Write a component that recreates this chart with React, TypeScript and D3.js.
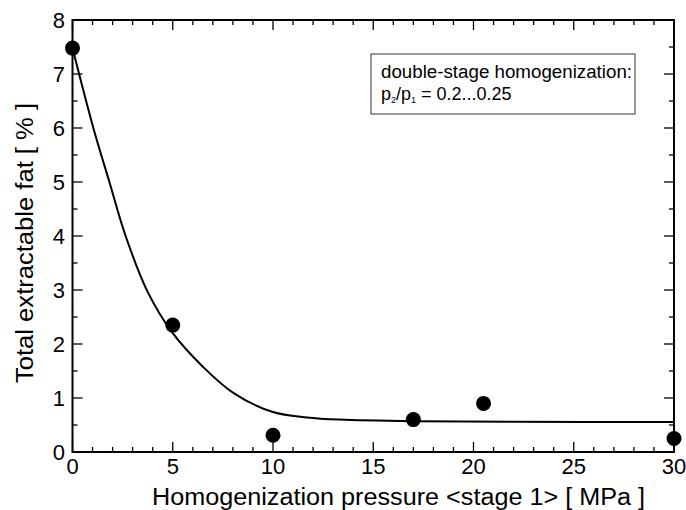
import React from "react";
import * as d3 from "d3";

const pressure = [0, 5, 10, 17, 20.5, 30];
const fat = [7.48, 2.35, 0.31, 0.6, 0.9, 0.25];

const curveX = [0, 1.04, 1.84, 2.65, 3.73, 5, 6.5, 8, 10, 11.7, 13.3, 17, 22, 30];
const curveY = [7.48, 6.0, 5.0, 4.0, 2.98, 2.2, 1.58, 1.1, 0.74, 0.64, 0.6, 0.57, 0.56, 0.555];

const xTickLabels = [0, 5, 10, 15, 20, 25, 30];
const yTickLabels = [0, 1, 2, 3, 4, 5, 6, 7, 8];

const W = 686;
const H = 510;
const L = 72.5, R = 674, T = 20, B = 452;

export default function App() {
  const x = d3.scaleLinear().domain([0, 30]).range([L, R]);
  const y = d3.scaleLinear().domain([0, 8]).range([B, T]);
  const xMinor = d3.range(0, 31, 1);
  const yMinor = d3.range(0, 8.01, 0.5);
  const line = d3
    .line<number>()
    .x((_, i) => x(curveX[i]))
    .y((d) => y(d))
    .curve(d3.curveCatmullRom.alpha(0.5));
  const font = "Liberation Sans, Arial, sans-serif";
  return (
    <div style={{ position: "fixed", left: 0, top: 0 }}>
      <svg width={W} height={H} style={{ display: "block", background: "#fff" }}>
        {xMinor.map((v) => {
          const major = v % 5 === 0;
          const len = major ? 10 : 5;
          return (
            <g key={"xt" + v} stroke="#000" strokeWidth={1.3}>
              <line x1={x(v)} x2={x(v)} y1={B} y2={B - len} />
              <line x1={x(v)} x2={x(v)} y1={T} y2={T + len} />
            </g>
          );
        })}
        {yMinor.map((v) => {
          const major = Math.abs(v - Math.round(v)) < 1e-6;
          const len = major ? 10 : 5;
          return (
            <g key={"yt" + v} stroke="#000" strokeWidth={1.3}>
              <line x1={L} x2={L + len} y1={y(v)} y2={y(v)} />
              <line x1={R} x2={R - len} y1={y(v)} y2={y(v)} />
            </g>
          );
        })}
        <rect x={L} y={T} width={R - L} height={B - T} fill="none" stroke="#000" strokeWidth={2} />
        {xTickLabels.map((v) => (
          <text key={"xl" + v} x={x(v)} y={474} textAnchor="middle" fontFamily={font} fontSize={22} fill="#000">
            {v}
          </text>
        ))}
        {yTickLabels.map((v) => (
          <text key={"yl" + v} x={65} y={y(v) + 8} textAnchor="end" fontFamily={font} fontSize={22} fill="#000">
            {v}
          </text>
        ))}
        <text x={152} y={505} fontFamily={font} fontSize={23} textLength={493} lengthAdjust="spacingAndGlyphs" fill="#000">
          Homogenization pressure &lt;stage 1&gt; [ MPa ]
        </text>
        <text
          transform="translate(33,383) rotate(-90)"
          x={0}
          y={0}
          fontFamily={font}
          fontSize={23}
          textLength={280}
          lengthAdjust="spacingAndGlyphs"
          fill="#000"
        >
          Total extractable fat [ % ]
        </text>
        <path d={line(curveY) || ""} fill="none" stroke="#000" strokeWidth={2} />
        {pressure.map((p, i) => (
          <circle key={"pt" + i} cx={x(p)} cy={y(fat[i])} r={7.5} fill="#000" />
        ))}
        <rect x={371} y={54} width={264} height={60} fill="#fff" stroke="#333" strokeWidth={1} />
        <text x={381} y={78} fontFamily={font} fontSize={18} textLength={251} lengthAdjust="spacingAndGlyphs" fill="#000">
          double-stage homogenization:
        </text>
        <text x={381} y={100} fontFamily={font} fontSize={18} fill="#000">
          p<tspan fontSize={9} dy={3}>2</tspan>
          <tspan dy={-3}>/p</tspan>
          <tspan fontSize={9} dy={3}>1</tspan>
          <tspan dy={-3}> = 0.2...0.25</tspan>
        </text>
      </svg>
    </div>
  );
}
